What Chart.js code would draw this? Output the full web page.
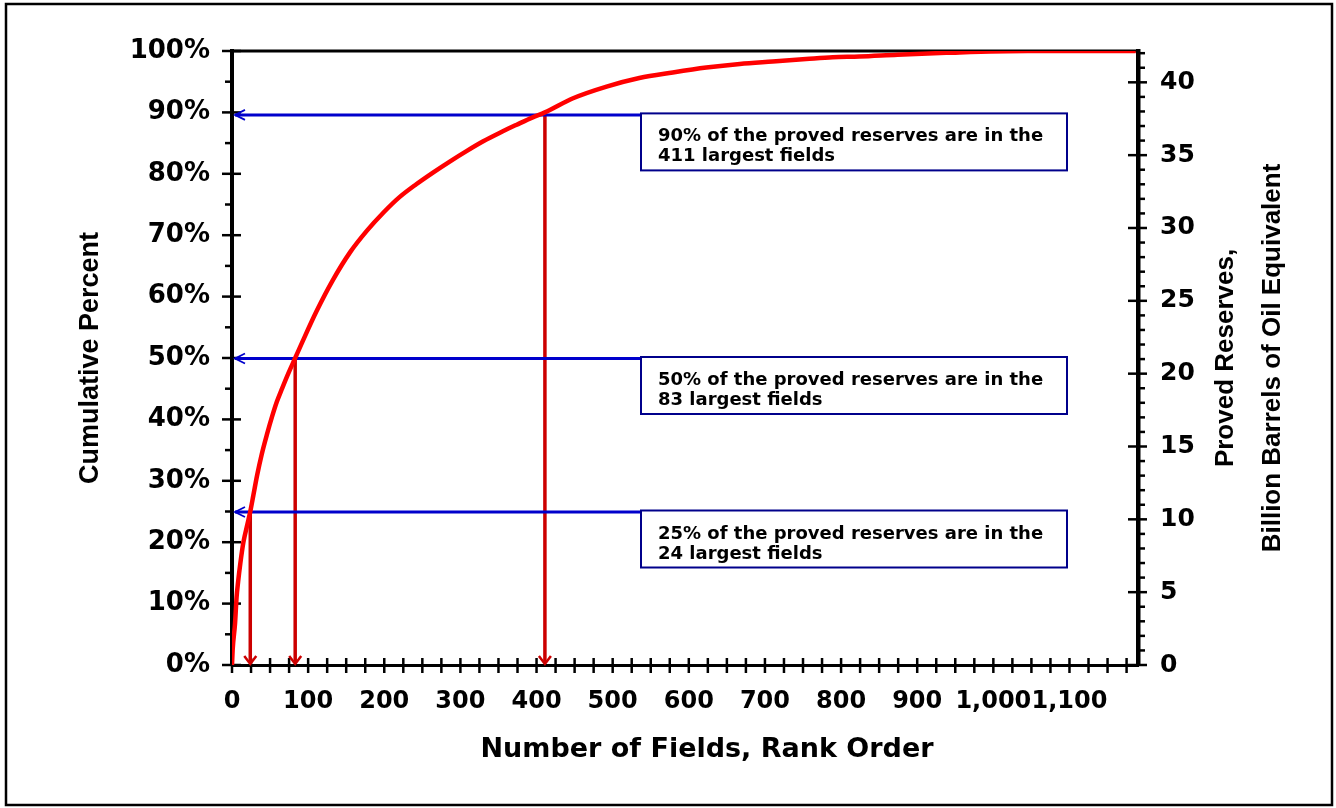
<!DOCTYPE html>
<html>
<head>
<meta charset="utf-8">
<title>Cumulative Percent of Proved Reserves by Field Rank</title>
<script src="https://cdn.jsdelivr.net/npm/chart.js@4.4.1/dist/chart.umd.min.js"></script>
<style>
  html, body { margin: 0; padding: 0; background: #fff; }
  #wrap { width: 1336px; height: 808px; }
</style>
</head>
<body>
<div id="wrap"><canvas id="chart" width="1336" height="808"></canvas></div>
<script>
/* ── Data ───────────────────────────────────────────────────────────────────── */
const FIELD_RANK = [
  0, 1, 4, 6, 8, 11, 15, 20, 24, 28, 33, 39, 46, 53, 59, 66, 74, 83, 92,
  111, 133, 155, 177, 199, 220, 242, 264, 286, 308, 330, 352, 374, 395, 411,
  448, 492, 535, 579, 623, 667, 710, 754, 789, 824, 874, 938, 1045, 1187,
];
const CUM_PERCENT = [
  0, 2.7, 6.8, 11.0, 13.5, 16.6, 20.0, 22.8, 25.0, 27.6, 30.9, 34.3, 37.6, 40.6, 42.9, 45.1, 47.5, 50.0, 52.5,
  57.6, 62.8, 67.2, 70.7, 73.7, 76.2, 78.3, 80.2, 82.0, 83.7, 85.3, 86.7, 88.0, 89.2, 90.0,
  92.3, 94.2, 95.6, 96.5, 97.3, 97.9, 98.3, 98.7, 99.0, 99.1, 99.4, 99.7, 100, 100,
];

const X_MAX      = 1190;                 // total number of fields
const X_TICKS    = [0, 100, 200, 300, 400, 500, 600, 700, 800, 900, 1000, 1100];
const PCT_TICKS  = [0, 10, 20, 30, 40, 50, 60, 70, 80, 90, 100];
const BOE_TOTAL  = 42.15;                // billion boe = 100%
const BOE_TICKS  = [0, 5, 10, 15, 20, 25, 30, 35, 40];

// callouts: percent level, field rank where it is reached, box text
const MARK_PCT  = [90, 50, 25];
const MARK_RANK = [411, 83, 24];
const MARK_TEXT = [
  ["90% of the proved reserves are in the", "411 largest fields"],
  ["50% of the proved reserves are in the", "83 largest fields"],
  ["25% of the proved reserves are in the", "24 largest fields"],
];

/* ── Styling ────────────────────────────────────────────────────────────────── */
const WIDE = "'DejaVu Sans', sans-serif";
const ARIAL = "'Liberation Sans', Arial, sans-serif";
const CURVE_RED = "#ff0000";
const ARROW_RED = "#cc0000";
const ARROW_BLUE = "#0000cc";
const BOX_BLUE = "#00008b";

function line(ctx, x1, y1, x2, y2) {
  ctx.beginPath();
  ctx.moveTo(x1, y1);
  ctx.lineTo(x2, y2);
  ctx.stroke();
}

/* ── Plugin: plot box, tick marks, callouts, titles ─────────────────────────── */
const decorations = {
  id: "decorations",
  beforeDatasetsDraw(chart) {
    const { ctx, chartArea: a, scales: { x, y, y2 } } = chart;
    ctx.save();
    ctx.lineCap = "butt";

    // top edge of the box
    ctx.strokeStyle = "#000";
    ctx.lineWidth = 3;
    line(ctx, a.left - 2, a.top, a.right + 2, a.top);

    // tick marks
    ctx.lineWidth = 2.5;
    for (let v = 0; v <= 100; v += 5) {
      const py = y.getPixelForValue(v);
      if (v % 10 === 0) line(ctx, a.left - 10, py, a.left + 9, py);
      else line(ctx, a.left - 7, py, a.left, py);
    }
    for (let v = 0; v <= BOE_TOTAL; v += 1) {
      const py = y2.getPixelForValue(v);
      if (v % 5 === 0) line(ctx, a.right - 10, py, a.right + 9, py);
      else line(ctx, a.right, py, a.right + 7, py);
    }
    for (let v = 0; v < X_MAX; v += 25) {
      const px = x.getPixelForValue(v);
      line(ctx, px, a.bottom - 7, px, a.bottom + 8);
    }

    // red drop arrows from the curve to the rank axis
    ctx.strokeStyle = ARROW_RED;
    MARK_RANK.forEach((r, i) => {
      const px = x.getPixelForValue(r);
      const top = y.getPixelForValue(MARK_PCT[i]) + 2;
      ctx.lineWidth = 3.5;
      line(ctx, px, top, px, a.bottom - 2);
      ctx.lineWidth = 2.5;
      ctx.beginPath();
      ctx.moveTo(px - 6, a.bottom - 9);
      ctx.lineTo(px, a.bottom - 1);
      ctx.lineTo(px + 6, a.bottom - 9);
      ctx.stroke();
    });

    // blue arrows to the percent axis + text boxes
    const boxLeft = 641, boxWidth = 426, boxHeight = 57;
    MARK_PCT.forEach((p, i) => {
      const py = y.getPixelForValue(p) + (p === 90 ? 2.5 : 0.5);
      ctx.strokeStyle = ARROW_BLUE;
      ctx.lineWidth = 3;
      line(ctx, a.left + 3, py, boxLeft, py);
      ctx.lineWidth = 1.8;
      ctx.beginPath();
      ctx.moveTo(a.left + 13, py - 5);
      ctx.lineTo(a.left + 3, py);
      ctx.lineTo(a.left + 13, py + 5);
      ctx.stroke();

      const top = py - 1.5;
      ctx.fillStyle = "#fff";
      ctx.fillRect(boxLeft, top, boxWidth, boxHeight);
      ctx.strokeStyle = BOX_BLUE;
      ctx.lineWidth = 2;
      ctx.strokeRect(boxLeft, top, boxWidth, boxHeight);

      ctx.fillStyle = "#000";
      ctx.font = `bold 18px ${WIDE}`;
      ctx.textAlign = "left";
      ctx.textBaseline = "alphabetic";
      ctx.fillText(MARK_TEXT[i][0], boxLeft + 17, top + 28);
      ctx.fillText(MARK_TEXT[i][1], boxLeft + 17, top + 48);
    });
    ctx.restore();
  },
  afterDraw(chart) {
    const { ctx } = chart;
    ctx.save();
    ctx.fillStyle = "#000";
    ctx.textAlign = "center";
    ctx.textBaseline = "middle";

    // x axis title (sits right of the plot centre in the original)
    ctx.font = `bold 27px ${WIDE}`;
    ctx.fillText("Number of Fields, Rank Order", 707, 750);

    // right axis title, two lines reading bottom to top
    ctx.font = `bold 26px ${ARIAL}`;
    [["Proved Reserves,", 1226], ["Billion Barrels of Oil Equivalent", 1273]].forEach(([t, cx]) => {
      ctx.save();
      ctx.translate(cx, 358);
      ctx.rotate(-Math.PI / 2);
      ctx.fillText(t, 0, 0);
      ctx.restore();
    });

    // outer frame
    ctx.strokeStyle = "#000";
    ctx.lineWidth = 2.5;
    ctx.strokeRect(6, 4, 1326, 801);
    ctx.restore();
  },
};

/* ── Chart ──────────────────────────────────────────────────────────────────── */
const ctx = document.getElementById("chart").getContext("2d");

new Chart(ctx, {
  type: "line",
  data: {
    datasets: [{
      label: "Cumulative percent",
      data: FIELD_RANK.map((r, i) => ({ x: r, y: CUM_PERCENT[i] })),
      borderColor: CURVE_RED,
      borderWidth: 4.5,
      pointRadius: 0,
      cubicInterpolationMode: "monotone",
      xAxisID: "x",
      yAxisID: "y",
    }],
  },
  options: {
    responsive: false,
    animation: false,
    devicePixelRatio: 1,
    layout: { padding: { top: 51, left: 0, right: 0, bottom: 0 } },
    plugins: { legend: { display: false }, tooltip: { enabled: false } },
    scales: {
      x: {
        type: "linear",
        min: 0,
        max: X_MAX,
        afterBuildTicks: (s) => { s.ticks = X_TICKS.map((v) => ({ value: v })); },
        afterFit: (s) => { s.height = 143; },
        grid: { drawOnChartArea: false, drawTicks: false },
        border: { display: true, color: "#000", width: 3 },
        ticks: {
          autoSkip: false,
          maxRotation: 0,
          padding: 22,
          color: "#000",
          font: { family: WIDE, size: 24, weight: "bold" },
          callback: (v) => v.toLocaleString("en-US"),
        },
      },
      y: {
        type: "linear",
        position: "left",
        min: 0,
        max: 100,
        afterBuildTicks: (s) => { s.ticks = PCT_TICKS.map((v) => ({ value: v })); },
        afterFit: (s) => { s.width = 232; },
        grid: { drawOnChartArea: false, drawTicks: false },
        border: { display: true, color: "#000", width: 4 },
        ticks: {
          padding: 22,
          color: "#000",
          font: { family: WIDE, size: 26, weight: "bold" },
          callback: (v) => v + "%",
        },
        title: {
          display: true,
          text: "Cumulative Percent",
          color: "#000",
          font: { family: ARIAL, size: 27, weight: "bold" },
          padding: { top: 74, bottom: 0 },
        },
      },
      y2: {
        type: "linear",
        position: "right",
        display: true,
        min: 0,
        max: BOE_TOTAL,
        afterBuildTicks: (s) => { s.ticks = BOE_TICKS.map((v) => ({ value: v })); },
        afterFit: (s) => { s.width = 198; },
        grid: { drawOnChartArea: false, drawTicks: false },
        border: { display: true, color: "#000", width: 4.5 },
        ticks: {
          padding: 22,
          color: "#000",
          font: { family: WIDE, size: 25, weight: "bold" },
        },
      },
    },
  },
  plugins: [decorations],
});
</script>
</body>
</html>
